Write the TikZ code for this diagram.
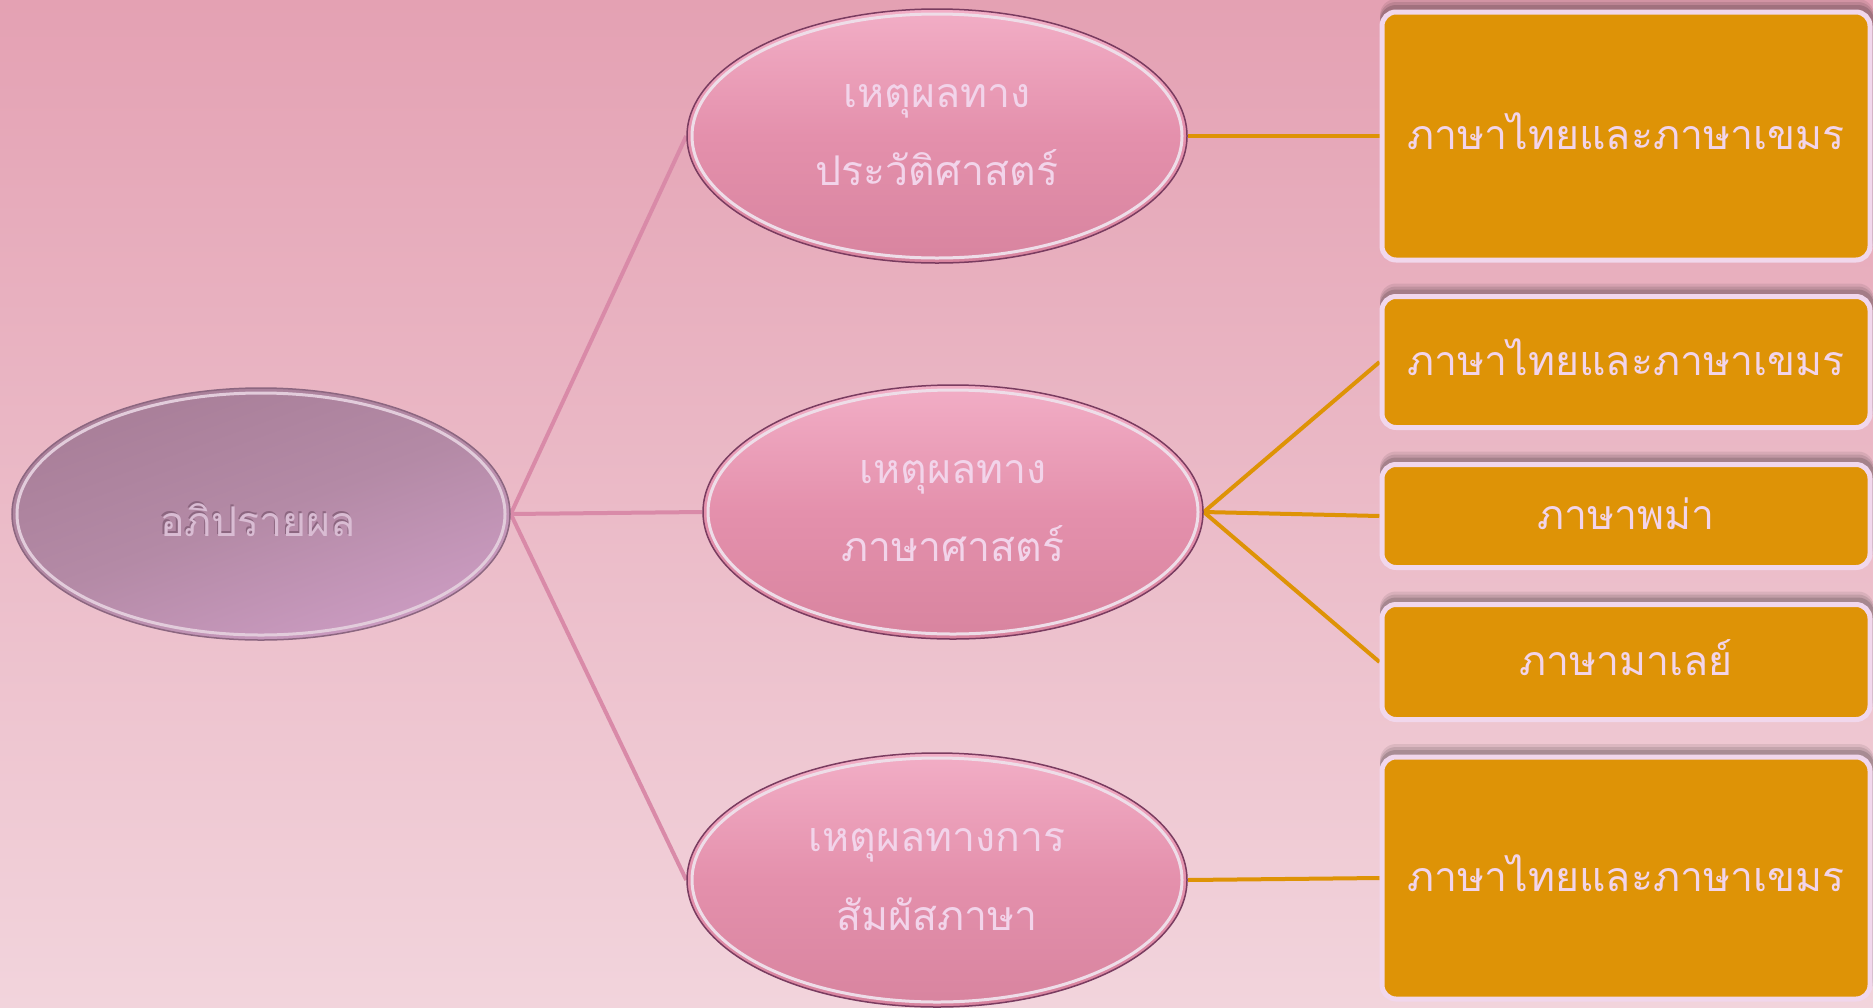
\documentclass[tikz,border=0pt]{standalone}
\usepackage{fontspec}
\newfontfamily\thai[Script=Thai]{Loma}
\usetikzlibrary{shapes.geometric}
\pgfdeclarelayer{back}
\pgfdeclarelayer{lines}
\pgfsetlayers{back,lines,main}
\definecolor{bgtop}{HTML}{E4A1B3}
\definecolor{bgbot}{HTML}{F2D4DC}
\definecolor{pinkfill}{HTML}{E490AC}
\definecolor{pinkhi}{HTML}{F2AEC6}
\definecolor{pinklo}{HTML}{D8849F}
\definecolor{rootfill}{HTML}{B48AA6}
\definecolor{roothi}{HTML}{CC9CC2}
\definecolor{rootlo}{HTML}{A87E98}
\definecolor{orangebox}{HTML}{DE9306}
\definecolor{boxedge}{HTML}{F1D7EC}
\definecolor{txtlight}{HTML}{F2D4EA}
\definecolor{pinkline}{HTML}{D98AA8}
\definecolor{rimdark}{HTML}{7A3C60}
\definecolor{rimlight}{HTML}{EEDDE8}
\definecolor{roottxt}{HTML}{D9BCD3}
\definecolor{rootshade}{HTML}{8C6680}
\begin{document}
\begin{tikzpicture}[x=1pt,y=-1pt,
  thaitext/.style={font=\thai\fontsize{41}{50}\selectfont, text=txtlight, inner sep=0pt, text height=26pt, text depth=0pt},
  branch/.style={ellipse, minimum width=500pt, minimum height=254pt, inner sep=0pt, draw=rimdark, line width=1.5pt, top color=pinkhi, bottom color=pinklo, middle color=pinkfill},
  rootshape/.style={ellipse, minimum width=498pt, minimum height=252pt, inner sep=0pt, draw=rootshade, line width=1.5pt, shading=axis, top color=rootlo, bottom color=roothi, middle color=rootfill, shading angle=20},
  leafbox/.style={rectangle, rounded corners=14pt, minimum width=488pt, fill=orangebox, draw=boxedge, line width=5pt, thaitext},
  pinkconn/.style={draw=pinkline, line width=4pt},
  orangeconn/.style={draw=orangebox, line width=4pt},
  ring/.style={draw=rimlight, line width=3pt}
]
\begin{pgfonlayer}{back}
\shade[top color=bgtop,bottom color=bgbot] (0,0) rectangle (1873,1007);
\end{pgfonlayer}
\useasboundingbox (0,0) rectangle (1873,1007);

% root
\node[rootshape] (root) at (261,514) {};
\draw[ring, draw=rimlight!80!rootfill] (root.center) ellipse [x radius=244, y radius=121];
\node[thaitext, text=rootshade] (rootsh) at (256.5,521.5) {อภิปรายผล};
\node[thaitext, text=roottxt] (roottx) at (258,523) {อภิปรายผล};

% branches
\node[branch] (hist) at (937,136) {};
\draw[ring] (hist.center) ellipse [x radius=245, y radius=122];
\node[thaitext] (hist1) at (937,94) {เหตุผลทาง};
\node[thaitext] (hist2) at (937,172) {ประวัติศาสตร์};

\node[branch] (ling) at (953,512) {};
\draw[ring] (ling.center) ellipse [x radius=245, y radius=122];
\node[thaitext] (ling1) at (953,470) {เหตุผลทาง};
\node[thaitext] (ling2) at (953,548) {ภาษาศาสตร์};

\node[branch] (cont) at (937,880) {};
\draw[ring] (cont.center) ellipse [x radius=245, y radius=122];
\node[thaitext] (cont1) at (937,838) {เหตุผลทางการ};
\node[thaitext] (cont2) at (937,917) {สัมผัสภาษา};

% boxes with shadows
\begin{pgfonlayer}{lines}
\foreach \yc/\h in {136/248, 362/131, 516/103, 662/115, 878/242}{
  \foreach \s/\o in {10/0.08, 7/0.10, 4/0.14}{
    \fill[black, opacity=\o, rounded corners=16pt] (1380,\yc-\h/2-\s-3) rectangle (1874,\yc+\h/2-\s);
  }
}
\end{pgfonlayer}
\node[leafbox, minimum height=248pt] (b1) at (1626,136) {ภาษาไทยและภาษาเขมร};
\node[leafbox, minimum height=131pt] (b2) at (1626,362) {ภาษาไทยและภาษาเขมร};
\node[leafbox, minimum height=103pt] (b3) at (1626,516) {ภาษาพม่า};
\node[leafbox, minimum height=115pt] (b4) at (1626,662) {ภาษามาเลย์};
\node[leafbox, minimum height=242pt] (b5) at (1626,878) {ภาษาไทยและภาษาเขมร};

% connectors
\begin{pgfonlayer}{lines}
\draw[pinkconn] (root.east) -- (hist.west);
\draw[pinkconn] (root.east) -- (ling.west);
\draw[pinkconn] (root.east) -- (cont.west);
\draw[orangeconn] (hist.east) -- (b1.west);
\draw[orangeconn] (ling.east) -- (b2.west);
\draw[orangeconn] (ling.east) -- (b3.west);
\draw[orangeconn] (ling.east) -- (b4.west);
\draw[orangeconn] (cont.east) -- (b5.west);
\end{pgfonlayer}
\end{tikzpicture}
\end{document}
